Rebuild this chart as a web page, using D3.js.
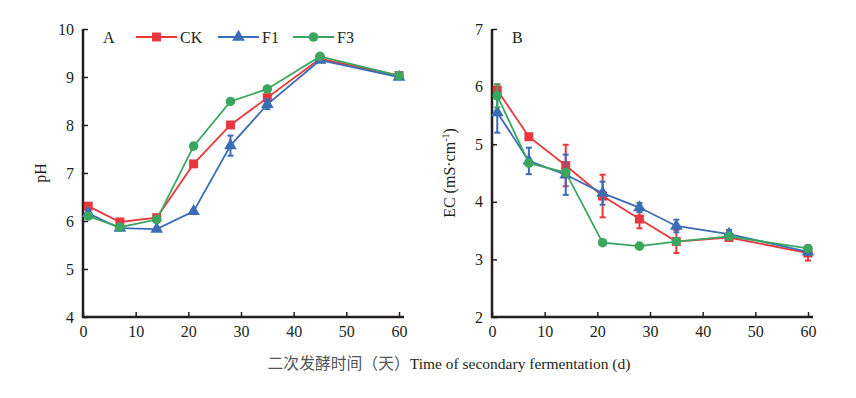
<!DOCTYPE html>
<html>
<head>
<meta charset="utf-8">
<script src="https://cdn.jsdelivr.net/npm/d3@7"></script>
<style>
  body { margin: 0; background: #fff; }
  text { font-family: "Liberation Serif", "DejaVu Serif", serif; }
</style>
</head>
<body>
<svg id="chart" width="856" height="398"></svg>
<script>
// sampling days
var days = [1, 7, 14, 21, 28, 35, 45, 60];
var seriesNames = ["CK", "F1", "F3"];
var xTicks = [0, 10, 20, 30, 40, 50, 60];
var phTicks = [4, 5, 6, 7, 8, 9, 10];
var ecTicks = [2, 3, 4, 5, 6, 7];

// panel A: pH
var phCK = [6.31, 5.98, 6.07, 7.19, 8.00, 8.57, 9.38, 9.03];
var phF1 = [6.16, 5.85, 5.83, 6.20, 7.57, 8.43, 9.35, 9.00];
var phF3 = [6.10, 5.87, 6.03, 7.56, 8.49, 8.75, 9.43, 9.03];
var phCKErr = [0.05, 0.04, 0.04, 0.03, 0.03, 0.04, 0.03, 0.03];
var phF1Err = [0.08, 0.03, 0.03, 0.03, 0.21, 0.10, 0.03, 0.03];
var phF3Err = [0.04, 0.03, 0.05, 0.06, 0.03, 0.03, 0.03, 0.03];

// panel B: EC
var ecCK = [5.94, 5.13, 4.63, 4.10, 3.70, 3.31, 3.38, 3.11];
var ecF1 = [5.55, 4.71, 4.47, 4.15, 3.90, 3.58, 3.44, 3.13];
var ecF3 = [5.84, 4.67, 4.51, 3.29, 3.23, 3.31, 3.40, 3.19];
var ecCKErr = [0.10, 0.03, 0.36, 0.37, 0.16, 0.20, 0.06, 0.13];
var ecF1Err = [0.35, 0.23, 0.35, 0.20, 0.08, 0.11, 0.07, 0.05];
var ecF3Err = [0.20, 0.05, 0.03, 0.03, 0.03, 0.03, 0.03, 0.03];

var colors = {CK: "#e8383d", F1: "#3a6db5", F3: "#3aa660"};

var svg = d3.select("#chart");

function style_axis(a) {
    a.select(".domain").remove();
    a.selectAll("line").attr("stroke", "#231f20").attr("stroke-width", 1.5);
    a.selectAll("text").attr("font-size", 16).attr("fill", "#231f20")
        .attr("font-family", "Liberation Serif");
}

function draw_panel(left, right, yDomain, yTicks, series, label, yLabel) {
    var top = 29, bottom = 317;
    var x = d3.scaleLinear().domain([0, 60]).range([left, right]);
    var y = d3.scaleLinear().domain(yDomain).range([bottom, top]);
    var g = svg.append("g");

    // axes, ticks pointing inward
    g.append("g")
        .attr("transform", "translate(0," + bottom + ")")
        .call(d3.axisBottom(x).tickValues(xTicks).tickFormat(d3.format("d"))
            .tickSizeInner(-5).tickSizeOuter(0).tickPadding(9))
        .call(style_axis);
    g.append("g")
        .attr("transform", "translate(" + left + ",0)")
        .call(d3.axisLeft(y).tickValues(yTicks).tickFormat(d3.format("d"))
            .tickSizeInner(-5).tickSizeOuter(0).tickPadding(9))
        .call(style_axis);
    g.append("path")
        .attr("d", "M" + left + "," + top + "V" + bottom + "H" + (right + 5))
        .attr("fill", "none")
        .attr("stroke", "#231f20")
        .attr("stroke-width", 2.5);

    // panel letter
    g.append("text")
        .attr("x", left + 20)
        .attr("y", top + 14)
        .attr("font-size", 16)
        .attr("fill", "#231f20")
        .text(label);

    // y axis title
    var yt = g.append("text")
        .attr("transform", "translate(" + (left - 37) + "," + y((yDomain[0] + yDomain[1]) / 2) + ") rotate(-90)")
        .attr("text-anchor", "middle")
        .attr("font-size", 16)
        .attr("fill", "#231f20");
    yt.append("tspan").text(yLabel[0]);
    if (yLabel.length > 1) {
        yt.append("tspan").attr("font-size", 10).attr("dy", -6).text(yLabel[1]);
        yt.append("tspan").attr("dy", 6).text(yLabel[2]);
    }

    var line = d3.line()
        .x(function (d) { return x(d.day); })
        .y(function (d) { return y(d.v); });

    series.forEach(function (s) {
        var pts = days.map(function (d, i) { return {day: d, v: s.values[i], e: s.err[i]}; });
        var c = colors[s.name];
        var sg = g.append("g");

        sg.append("path")
            .datum(pts)
            .attr("d", line)
            .attr("fill", "none")
            .attr("stroke", c)
            .attr("stroke-width", 1.8);

        // error bars
        var eb = sg.selectAll(".err")
            .data(pts)
            .enter().append("g");
        eb.append("line")
            .attr("x1", function (d) { return x(d.day); })
            .attr("x2", function (d) { return x(d.day); })
            .attr("y1", function (d) { return y(d.v - d.e); })
            .attr("y2", function (d) { return y(d.v + d.e); })
            .attr("stroke", c).attr("stroke-width", 2);
        [-1, 1].forEach(function (k) {
            eb.append("line")
                .attr("x1", function (d) { return x(d.day) - 3; })
                .attr("x2", function (d) { return x(d.day) + 3; })
                .attr("y1", function (d) { return y(d.v + k * d.e); })
                .attr("y2", function (d) { return y(d.v + k * d.e); })
                .attr("stroke", c).attr("stroke-width", 2);
        });

        sg.selectAll(".pt")
            .data(pts)
            .enter().append("path")
            .attr("transform", function (d) { return "translate(" + x(d.day) + "," + y(d.v) + ")"; })
            .attr("d", s.symbol)
            .attr("fill", c);
    });
}

var symSquare = d3.symbol().type(d3.symbolSquare).size(80)();
var symTriangle = d3.symbol().type(d3.symbolTriangle).size(70)();
var symCircle = d3.symbol().type(d3.symbolCircle).size(72)();

draw_panel(83, 399, [4, 10], phTicks, [
    {name: "CK", values: phCK, err: phCKErr, symbol: symSquare},
    {name: "F1", values: phF1, err: phF1Err, symbol: symTriangle},
    {name: "F3", values: phF3, err: phF3Err, symbol: symCircle}
], "A", ["pH"]);

draw_panel(492, 808, [2, 7], ecTicks, [
    {name: "CK", values: ecCK, err: ecCKErr, symbol: symSquare},
    {name: "F1", values: ecF1, err: ecF1Err, symbol: symTriangle},
    {name: "F3", values: ecF3, err: ecF3Err, symbol: symCircle}
], "B", ["EC (mS·cm", "-1", ")"]);

// legend in panel A
var legendX = [136, 218, 293];
var legendSyms = [symSquare, symTriangle, symCircle];
var legend = svg.append("g")
    .selectAll("g")
    .data(seriesNames)
    .enter().append("g")
    .attr("transform", function (d, i) { return "translate(" + legendX[i] + ",37)"; });
legend.append("line")
    .attr("x1", 0).attr("x2", 41)
    .attr("stroke", function (d) { return colors[d]; })
    .attr("stroke-width", 2);
legend.append("path")
    .attr("transform", "translate(20.5,0)")
    .attr("d", function (d, i) { return legendSyms[i]; })
    .attr("fill", function (d) { return colors[d]; });
legend.append("text")
    .attr("x", 44)
    .attr("dy", "0.35em")
    .attr("font-size", 16)
    .attr("fill", "#231f20")
    .text(function (d) { return d; });

// shared x axis title
var xt = svg.append("text")
    .attr("x", 449)
    .attr("y", 369)
    .attr("text-anchor", "middle")
    .attr("font-size", 15.5);
xt.append("tspan")
    .attr("font-family", "Noto Sans CJK SC")
    .attr("font-size", 15.8)
    .attr("fill", "#555")
    .text("二次发酵时间（天）");
xt.append("tspan")
    .attr("fill", "#231f20")
    .text("Time of secondary fermentation (d)");
</script>
</body>
</html>
